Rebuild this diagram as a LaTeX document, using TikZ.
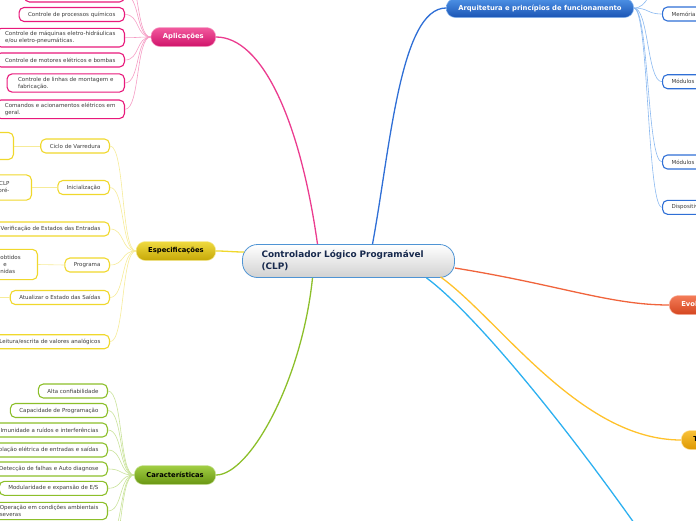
\documentclass[tikz,border=0pt]{standalone}
\usepackage{fontspec}
\setmainfont{DejaVu Sans}
\usepackage{xcolor}
\usepackage{tikz}
\usetikzlibrary{positioning,calc}

% Farben
\definecolor{clpline}{HTML}{4F94D4}
\definecolor{clptext}{HTML}{17294D}
\definecolor{leaftext}{HTML}{3C3C3C}
\definecolor{aplcol}{HTML}{E8197B}
\definecolor{aplhi}{HTML}{F25A9E}
\definecolor{apllo}{HTML}{D0136A}
\definecolor{apltwig}{HTML}{F59CC4}
\definecolor{speccol}{HTML}{F0D82C}
\definecolor{spechi}{HTML}{EFDA40}
\definecolor{speclo}{HTML}{C6A806}
\definecolor{spectwig}{HTML}{F6EB98}
\definecolor{charcol}{HTML}{8CBF2A}
\definecolor{charhi}{HTML}{A2CE44}
\definecolor{charlo}{HTML}{689612}
\definecolor{chartwig}{HTML}{C9E29A}
\definecolor{archcol}{HTML}{2F6FD6}
\definecolor{archhi}{HTML}{4E92E6}
\definecolor{archlo}{HTML}{1A54B4}
\definecolor{archtwig}{HTML}{8AB8F0}
\definecolor{evocol}{HTML}{F0643C}
\definecolor{evohi}{HTML}{F47C58}
\definecolor{evolo}{HTML}{D44620}
\definecolor{tipocol}{HTML}{FFC22C}
\definecolor{tipohi}{HTML}{F9C23A}
\definecolor{tipolo}{HTML}{DE9800}
\definecolor{skycol}{HTML}{2CB0F0}

\begin{document}
\begin{tikzpicture}[
    x=1pt, y=-1pt,
    center/.style={rectangle, rounded corners=15pt, draw=clpline, line width=0.8pt, top color=white, bottom color=black!18, minimum height=33pt, text width=174pt, inner xsep=19pt, align=left, text=clptext, font=\fontsize{8.9}{12}\selectfont\bfseries},
    branch/.style={rectangle, rounded corners=9pt, minimum height=19pt, inner xsep=12pt, inner ysep=2pt, line width=0.5pt, font=\fontsize{6.8}{8}\selectfont\bfseries},
    abranch/.style={branch, draw=apltwig, top color=aplhi, bottom color=apllo, text=white},
    sbranch/.style={branch, draw=spectwig, top color=spechi, bottom color=speclo, text=black},
    gbranch/.style={branch, draw=chartwig, top color=charhi, bottom color=charlo, text=black},
    bbranch/.style={branch, draw=archtwig, top color=archhi, bottom color=archlo, text=white},
    ebranch/.style={branch, draw=evocol!50, top color=evohi, bottom color=evolo, text=white},
    tbranch/.style={branch, draw=tipocol!50, top color=tipohi, bottom color=tipolo, text=black},
    leaf/.style={rectangle, rounded corners=5pt, fill=white, line width=1.1pt, minimum height=14pt, inner xsep=9pt, inner ysep=3pt, align=left, text=leaftext, font=\fontsize{5.5}{7}\selectfont},
    aleaf/.style={leaf, draw=aplcol, anchor=east},
    sleaf/.style={leaf, draw=speccol, anchor=east},
    gleaf/.style={leaf, draw=charcol, anchor=east},
    bleaf/.style={leaf, draw=archcol, anchor=west, text width=70pt},
    main/.style={line width=1.3pt},
    atwig/.style={draw=apltwig, line width=0.6pt},
    stwig/.style={draw=spectwig, line width=0.6pt},
    gtwig/.style={draw=chartwig, line width=0.6pt},
    btwig/.style={draw=archtwig, line width=0.6pt}
]
\useasboundingbox (0,0) rectangle (696,520);
\clip (0,0) rectangle (696,520);

% Zentrum
\node[center] (clp) at (348.5,261) {Controlador Lógico Programável\\(CLP)};

% Hauptzweige
\node[abranch, anchor=east] (apl) at (216,37) {Aplicações};
\node[sbranch, anchor=east] (spec) at (216,251) {Especificações};
\node[gbranch, anchor=east] (char) at (216,475) {Características};
\node[bbranch, anchor=west] (arch) at (446,8) {Arquitetura e princípios de funcionamento};
\node[ebranch, anchor=west] (evo) at (669,305) {Evolução};
\node[tbranch, anchor=west] (tipo) at (681,440) {Tipos};
\coordinate (skyend) at (660,560);

% Aplicações
\node[aleaf, minimum width=100pt] (a0) at (125,-26) {};
\node[aleaf, minimum width=100pt] (a1) at (125,-5) {};
\node[aleaf] (a2) at (125,14.5) {Controle de processos químicos};
\node[aleaf] (a3) at (125,37.7) {Controle de máquinas eletro-hidráulicas\\e/ou eletro-pneumáticas.};
\node[aleaf] (a4) at (125,60) {Controle de motores elétricos e bombas};
\node[aleaf, inner xsep=11pt] (a5) at (125,83) {Controle de linhas de montagem e\\fabricação.};
\node[aleaf] (a6) at (125,109.3) {Comandos e acionamentos elétricos em\\geral.};

% Especificações
\node[sleaf] (s1) at (110,146) {Ciclo de Varredura};
\node[sleaf] (s2) at (110,187.5) {Inicialização};
\node[sleaf] (s3) at (110,229) {Verificação de Estados das Entradas};
\node[sleaf] (s4) at (110,265) {Programa};
\node[sleaf] (s5) at (110,297.5) {Atualizar o Estado das Saídas};
\node[sleaf] (s6) at (110,341.7) {Leitura/escrita de valores analógicos};
\node[sleaf, minimum width=60pt, minimum height=27pt] (s1a) at (14,146) {};
\node[sleaf, text width=40pt, align=right, inner xsep=22pt, inner ysep=6.5pt] (s2a) at (32,187.5) {o CLP\\s pré-};
\node[sleaf, text width=28pt, inner ysep=6pt] (s4a) at (38,264.5) {obtidos\\\hspace*{3pt}e\\nidas};
\node[sleaf, minimum width=80pt] (s5a) at (-4,297.5) {};

% Características
\node[gleaf] (g1) at (108,391) {Alta confiabilidade};
\node[gleaf] (g2) at (108,410.5) {Capacidade de Programação};
\node[gleaf] (g3) at (108,430) {Imunidade a ruídos e interferências};
\node[gleaf] (g4) at (108,450) {Isolação elétrica de entradas e saídas};
\node[gleaf] (g5) at (108,469) {Detecção de falhas e Auto diagnose};
\node[gleaf] (g6) at (108,488.3) {Modularidade e expansão de E/S};
\node[gleaf] (g7) at (108,511) {Operação em condições ambientais\\severas};
\node[gleaf, minimum width=100pt] (g8) at (108,538) {};
\node[gleaf, minimum width=100pt] (g9) at (108,558) {};

% Arquitetura
\node[bleaf, minimum width=80pt] (b0) at (662,-12) {};
\node[bleaf] (b1) at (662,14) {Memória};
\node[bleaf] (b2) at (662,81.7) {Módulos};
\node[bleaf] (b3) at (662,162) {Módulos};
\node[bleaf] (b4) at (662,207.3) {Dispositivos};

% Verbindungen Zentrum zu Hauptzweigen
\draw[main, draw=aplcol!85] ([xshift=-31pt]clp.north) .. controls (300,120) and (262,37) .. (apl.east);
\draw[main, draw=speccol] (spec.east) to[out=0, in=180] ([xshift=2pt, yshift=9pt]clp.west);
\draw[main, draw=charcol] ([xshift=-36pt]clp.south) .. controls (302,380) and (250,475) .. (char.east);
\draw[main, draw=archcol] ([xshift=24pt]clp.north) .. controls (390,150) and (400,8) .. (arch.west);
\draw[main, draw=evocol] ([yshift=-7pt]clp.east) .. controls (560,285) and (610,305) .. (evo.west);
\draw[main, draw=tipocol] ([xshift=92pt, yshift=1pt]clp.south) .. controls (500,320) and (580,440) .. (tipo.west);
\draw[main, draw=skycol] ([xshift=78pt]clp.south) .. controls (470,310) and (560,415) .. (skyend);

% Verbindungen Aplicações
\draw[atwig] (apl.west) .. controls +(-15,0) and +(15,0) .. (a0.east);
\draw[atwig] (apl.west) .. controls +(-15,0) and +(15,0) .. (a1.east);
\draw[atwig] (apl.west) .. controls +(-15,0) and +(15,0) .. (a2.east);
\draw[atwig] (apl.west) .. controls +(-15,0) and +(15,0) .. (a3.east);
\draw[atwig] (apl.west) .. controls +(-15,0) and +(15,0) .. (a4.east);
\draw[atwig] (apl.west) .. controls +(-15,0) and +(15,0) .. (a5.east);
\draw[atwig] (apl.west) .. controls +(-15,0) and +(15,0) .. (a6.east);

% Verbindungen Especificações
\draw[stwig] (spec.west) .. controls +(-15,0) and +(15,0) .. (s1.east);
\draw[stwig] (spec.west) .. controls +(-15,0) and +(15,0) .. (s2.east);
\draw[stwig] (spec.west) .. controls +(-15,0) and +(15,0) .. (s3.east);
\draw[stwig] (spec.west) .. controls +(-15,0) and +(15,0) .. (s4.east);
\draw[stwig] (spec.west) .. controls +(-15,0) and +(15,0) .. (s5.east);
\draw[stwig] (spec.west) .. controls +(-15,0) and +(15,0) .. (s6.east);
\draw[stwig] (s1.west) -- (s1a.east);
\draw[stwig] (s2.west) -- (s2a.east);
\draw[stwig] (s4.west) -- (s4a.east);
\draw[stwig] (s5.west) -- (s5a.east);

% Verbindungen Características
\draw[gtwig] (char.west) .. controls +(-15,0) and +(15,0) .. (g1.east);
\draw[gtwig] (char.west) .. controls +(-15,0) and +(15,0) .. (g2.east);
\draw[gtwig] (char.west) .. controls +(-15,0) and +(15,0) .. (g3.east);
\draw[gtwig] (char.west) .. controls +(-15,0) and +(15,0) .. (g4.east);
\draw[gtwig] (char.west) .. controls +(-15,0) and +(15,0) .. (g5.east);
\draw[gtwig] (char.west) .. controls +(-15,0) and +(15,0) .. (g6.east);
\draw[gtwig] (char.west) .. controls +(-15,0) and +(15,0) .. (g7.east);
\draw[gtwig] (char.west) .. controls +(-15,0) and +(15,0) .. (g8.east);
\draw[gtwig] (char.west) .. controls +(-15,0) and +(15,0) .. (g9.east);

% Verbindungen Arquitetura
\draw[btwig] (arch.east) .. controls +(15,0) and +(-15,0) .. (b0.west);
\draw[btwig] (arch.east) .. controls +(15,0) and +(-15,0) .. (b1.west);
\draw[btwig] (arch.east) .. controls +(15,0) and +(-15,0) .. (b2.west);
\draw[btwig] (arch.east) .. controls +(15,0) and +(-15,0) .. (b3.west);
\draw[btwig] (arch.east) .. controls +(15,0) and +(-15,0) .. (b4.west);

\end{tikzpicture}
\end{document}
